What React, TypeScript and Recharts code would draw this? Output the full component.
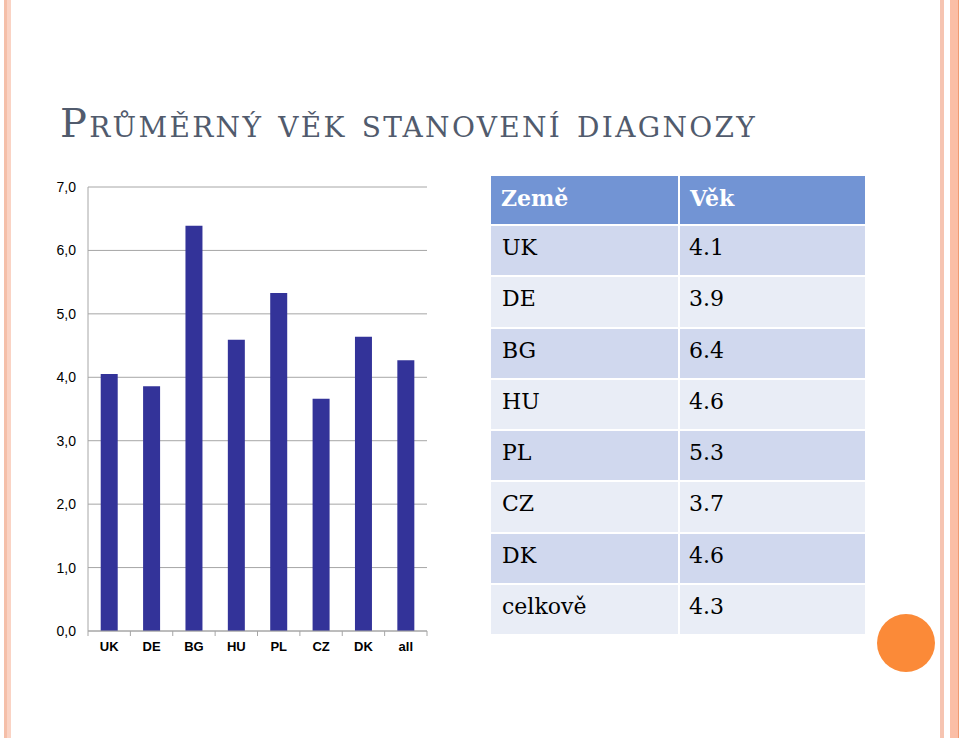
import React from "react";
import { BarChart, Bar, XAxis, YAxis, CartesianGrid } from "recharts";

const categories = ["UK", "DE", "BG", "HU", "PL", "CZ", "DK", "all"];
const ages = [4.05, 3.86, 6.39, 4.59, 5.33, 3.66, 4.64, 4.27];
const yTicks = [0, 1, 2, 3, 4, 5, 6, 7];

const tableHeader = ["Země", "Věk"];
const tableCountries = ["UK", "DE", "BG", "HU", "PL", "CZ", "DK", "celkově"];
const tableAges = ["4.1", "3.9", "6.4", "4.6", "5.3", "3.7", "4.6", "4.3"];

const chartData = categories.map((name, i) => ({ name, age: ages[i] }));

const serif = "'DejaVu Serif', serif";
const sans = "'Liberation Sans', Arial, sans-serif";

const XTick = (props: any) => {
  const { x, y, payload, index, visibleTicksCount } = props;
  const band = 339 / categories.length;
  return (
    <g>
      <line x1={x - band / 2} y1={y - 8} x2={x - band / 2} y2={y - 3} stroke="#a6a6a6" />
      {index === visibleTicksCount - 1 && (
        <line x1={x + band / 2} y1={y - 8} x2={x + band / 2} y2={y - 3} stroke="#a6a6a6" />
      )}
      <text x={x} y={y + 12} textAnchor="middle" fontFamily={sans} fontWeight="bold" fontSize={13} fill="#000">
        {payload.value}
      </text>
    </g>
  );
};

export default function App() {
  return (
    <div style={{ position: "absolute", left: 0, top: 0, width: 960, height: 738, background: "#fff", overflow: "hidden" }}>
      {/* slide borders */}
      <div style={{ position: "absolute", left: 4, top: 0, width: 3, height: 738, background: "#f5bfa9" }} />
      <div style={{ position: "absolute", left: 7, top: 0, width: 4, height: 738, background: "#fad3c4" }} />
      <div style={{ position: "absolute", left: 940, top: 0, width: 4, height: 738, background: "#f6c4b1" }} />
      <div style={{ position: "absolute", left: 950, top: 0, width: 8, height: 738, background: "#fbbea6" }} />
      <div style={{ position: "absolute", left: 958, top: 0, width: 1, height: 738, background: "#f09a72" }} />

      <div
        style={{
          position: "absolute",
          left: 60,
          top: 100,
          fontFamily: serif,
          fontSize: 40,
          letterSpacing: 2.3,
          fontVariant: "small-caps",
          color: "#515b6d",
          whiteSpace: "nowrap",
        }}
      >
        Průměrný věk stanovení diagnozy
      </div>

      <div style={{ position: "absolute", left: 40, top: 170 }}>
        <BarChart
          width={400}
          height={500}
          data={chartData}
          margin={{ top: 17, right: 13, left: 0, bottom: 0 }}
          barCategoryGap="30%"
        >
          <CartesianGrid vertical={false} stroke="#a6a6a6" />
          <XAxis
            dataKey="name"
            height={39}
            stroke="#a6a6a6"
            tickLine={false}
            tick={<XTick />}
            interval={0}
          />
          <YAxis
            width={48}
            domain={[0, 7]}
            ticks={yTicks}
            stroke="#a6a6a6"
            tickLine={false}
            tickMargin={6}
            tickFormatter={(v: number) => v.toFixed(1).replace(".", ",")}
            tick={{ fill: "#000", fontSize: 14, fontFamily: sans }}
          />
          <Bar dataKey="age" fill="#333399" isAnimationActive={false} />
        </BarChart>
      </div>

      <div
        style={{
          position: "absolute",
          left: 491,
          top: 176,
          display: "grid",
          gridTemplateColumns: "187px 185px",
          gridTemplateRows: "48px repeat(8, 49.25px)",
          gap: 2,
          fontFamily: serif,
          fontSize: 22,
        }}
      >
        {tableHeader.map((h) => (
          <div key={h} style={{ background: "#7294d4", color: "#fff", fontWeight: "bold", display: "flex", alignItems: "center", paddingLeft: 10, paddingBottom: 4 }}>
            {h}
          </div>
        ))}
        {tableCountries.map((c, i) => {
          const bg = i % 2 === 0 ? "#d0d8ee" : "#e9edf6";
          return (
            <React.Fragment key={c}>
              <div style={{ background: bg, color: "#000", display: "flex", alignItems: "center", paddingLeft: 11, paddingBottom: 6 }}>{c}</div>
              <div style={{ background: bg, color: "#000", display: "flex", alignItems: "center", paddingLeft: 9, paddingBottom: 6 }}>{tableAges[i]}</div>
            </React.Fragment>
          );
        })}
      </div>

      <div style={{ position: "absolute", left: 877, top: 614, width: 58, height: 58, borderRadius: "50%", background: "#fb8a38" }} />
    </div>
  );
}
